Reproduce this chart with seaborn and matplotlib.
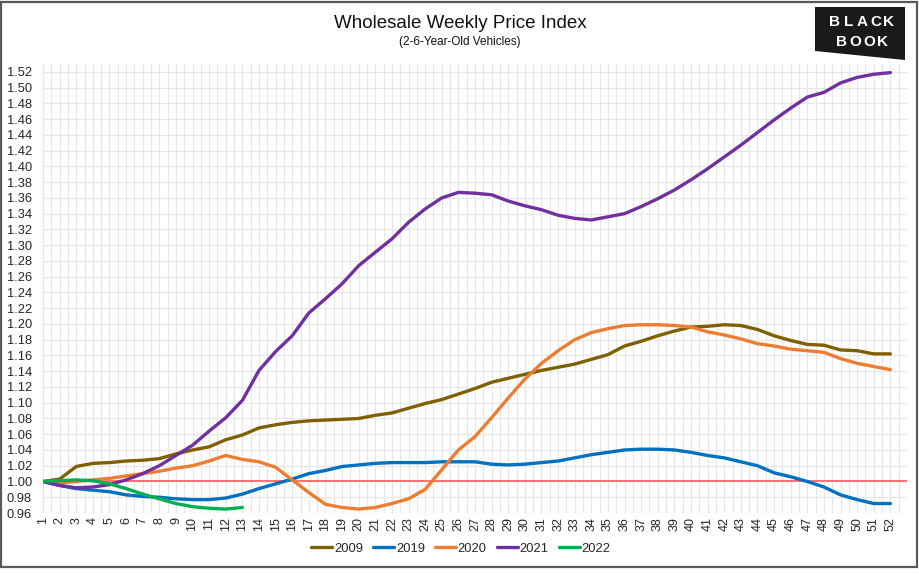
import numpy as np
import pandas as pd
import matplotlib
matplotlib.use("Agg")
import matplotlib.pyplot as plt
import seaborn as sns
from matplotlib.patches import Polygon, Rectangle
from matplotlib.ticker import MultipleLocator, FixedLocator
from matplotlib.lines import Line2D

weeks = list(range(1, 53))
years = ["2009", "2019", "2020", "2021", "2022"]

y2009 = [1.000, 1.003, 1.019, 1.023, 1.024, 1.026, 1.027, 1.029, 1.035, 1.040,
         1.044, 1.053, 1.059, 1.068, 1.072, 1.075, 1.077, 1.078, 1.079, 1.080,
         1.084, 1.087, 1.093, 1.099, 1.104, 1.111, 1.118, 1.126, 1.131, 1.136,
         1.141, 1.145, 1.149, 1.155, 1.161, 1.172, 1.178, 1.185, 1.191, 1.196,
         1.197, 1.199, 1.198, 1.193, 1.185, 1.179, 1.174, 1.173, 1.167, 1.166,
         1.162, 1.162]
y2019 = [1.000, 0.995, 0.991, 0.989, 0.987, 0.983, 0.981, 0.980, 0.978, 0.977,
         0.977, 0.979, 0.984, 0.991, 0.997, 1.003, 1.010, 1.014, 1.019, 1.021,
         1.023, 1.024, 1.024, 1.024, 1.025, 1.025, 1.025, 1.022, 1.021, 1.022,
         1.024, 1.026, 1.030, 1.034, 1.037, 1.040, 1.041, 1.041, 1.040, 1.037,
         1.033, 1.030, 1.025, 1.020, 1.011, 1.006, 1.000, 0.993, 0.983, 0.977,
         0.972, 0.972]
y2020 = [1.000, 0.998, 1.000, 1.002, 1.004, 1.007, 1.010, 1.013, 1.017, 1.020,
         1.026, 1.033, 1.028, 1.025, 1.018, 1.002, 0.986, 0.971, 0.967, 0.965,
         0.967, 0.972, 0.978, 0.990, 1.015, 1.040, 1.057, 1.081, 1.106, 1.130,
         1.150, 1.166, 1.180, 1.189, 1.194, 1.198, 1.199, 1.199, 1.198, 1.196,
         1.190, 1.186, 1.181, 1.175, 1.172, 1.168, 1.166, 1.164, 1.156, 1.150,
         1.146, 1.142]
y2021 = [1.000, 0.995, 0.992, 0.993, 0.996, 1.002, 1.010, 1.020, 1.033, 1.046,
         1.064, 1.081, 1.103, 1.141, 1.165, 1.185, 1.214, 1.232, 1.251, 1.274,
         1.291, 1.308, 1.329, 1.346, 1.360, 1.367, 1.366, 1.364, 1.356, 1.350,
         1.345, 1.338, 1.334, 1.332, 1.336, 1.340, 1.349, 1.359, 1.370, 1.383,
         1.397, 1.412, 1.427, 1.443, 1.459, 1.474, 1.488, 1.494, 1.506, 1.513,
         1.517, 1.519]
y2022 = [1.000, 1.001, 1.002, 1.001, 0.997, 0.991, 0.984, 0.978, 0.972, 0.968,
         0.966, 0.965, 0.967]

y_ticks = [round(0.96 + 0.02 * i, 2) for i in range(29)]
y_tick_labels = [f"{v:.2f}" for v in y_ticks]
x_tick_labels = [str(w) for w in weeks]

colors = {"2009": "#7F6000", "2019": "#0070C0", "2020": "#ED7D31",
          "2021": "#7030A0", "2022": "#00B050"}

series = {"2009": y2009, "2019": y2019, "2020": y2020, "2021": y2021, "2022": y2022}
df = pd.concat([pd.DataFrame({"week": weeks[:len(v)], "value": v, "year": k})
                for k, v in series.items()], ignore_index=True)

sns.set_theme(style="white")
plt.rcParams['font.family'] = ['Liberation Sans', 'DejaVu Sans']

W, H = 920, 575
fig = plt.figure(figsize=(W / 100, H / 100), dpi=100)
fig.patch.set_facecolor("white")
ax = fig.add_axes([43 / W, 1 - 513 / H, (907 - 43) / W, (513 - 64) / H])

sns.lineplot(data=df, x="week", y="value", hue="year", hue_order=years,
             palette=colors, linewidth=2.4, ax=ax, legend=False, sort=False,
             zorder=3)
ax.axhline(1.0, color="#FF5A5A", lw=1.2, zorder=2)

ax.set_xlim(1, 53)
ax.set_ylim(0.96, 1.53)
ax.xaxis.set_major_locator(FixedLocator(weeks))
ax.set_xticklabels(x_tick_labels, rotation=90, fontsize=9, color="#262626")
ax.xaxis.set_minor_locator(MultipleLocator(0.5))
ax.yaxis.set_major_locator(FixedLocator(y_ticks))
ax.set_yticklabels(y_tick_labels, fontsize=9.3, color="#262626")
ax.tick_params(axis="both", which="both", length=0)
ax.tick_params(axis="x", pad=3)
ax.tick_params(axis="y", pad=8)
ax.grid(True, axis="x", which="both", color="#E6E6E6", lw=0.8, zorder=0)
ax.grid(True, axis="y", which="major", color="#E6E6E6", lw=0.8, zorder=0)
ax.set_axisbelow(True)
for s in ax.spines.values():
    s.set_visible(False)
ax.set_xlabel("")
ax.set_ylabel("")

handles = [Line2D([0], [0], color=colors[y], lw=2.4) for y in years]
fig.legend(handles, years, loc="center", bbox_to_anchor=(461 / W, 1 - 549 / H),
           ncol=5, frameon=False, handlelength=1.6, handletextpad=0.15,
           columnspacing=0.8, fontsize=9.3)

fig.text(0.5, 1 - 24 / H, "Wholesale Weekly Price Index", ha="center",
         va="center", fontsize=13.5, color="#111111")
fig.text(0.5, 1 - 42 / H, "(2-6-Year-Old Vehicles)", ha="center",
         va="center", fontsize=8.5, color="#111111")

# logo
pts = [(815, 7), (905, 7), (905, 60), (815, 51)]
fig.patches.append(Polygon([(x / W, 1 - y / H) for x, y in pts], closed=True,
                           transform=fig.transFigure, fc="#1A1A1A", ec="none"))
for i, ch in enumerate("BLACK"):
    fig.text((835 + i * 13.5) / W, 1 - 22 / H, ch, ha="center", va="center",
             fontsize=11, color="white", fontweight="bold")
for i, ch in enumerate("BOOK"):
    fig.text((842 + i * 13.5) / W, 1 - 42 / H, ch, ha="center", va="center",
             fontsize=11, color="white", fontweight="bold")

fig.patches.append(Rectangle((1.5 / W, 1 - 567 / H), 916 / W, 565.5 / H,
                             transform=fig.transFigure, fill=False,
                             ec="#595959", lw=1.6))

fig.savefig("out.png", dpi=100)
